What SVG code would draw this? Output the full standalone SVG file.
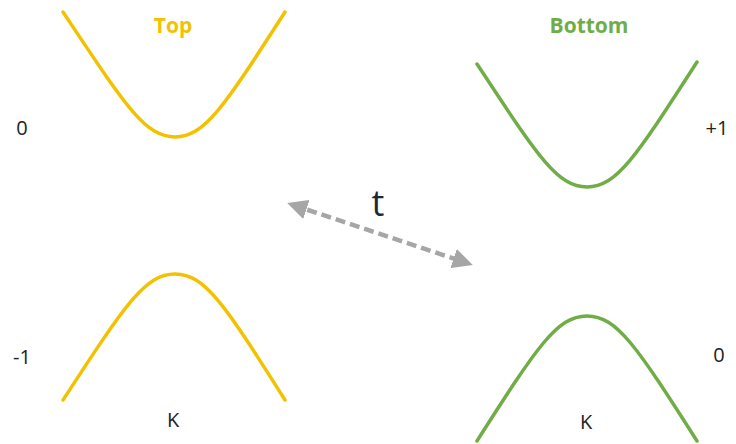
<svg xmlns="http://www.w3.org/2000/svg" width="736" height="444" viewBox="0 0 736 444">
<style>
.y{fill:none;stroke:#f2c200;stroke-width:3.5;stroke-linecap:round}
.g{fill:none;stroke:#70ad47;stroke-width:3.5;stroke-linecap:round}
.lbl{font-family:"Open Sans","Liberation Sans",sans-serif;font-size:20px;fill:#222;text-anchor:middle}
.ttl{font-family:"Open Sans","Liberation Sans",sans-serif;font-size:21px;font-weight:bold;text-anchor:middle}
</style>
<defs>
<marker id="ah" viewBox="0 0 10 10" refX="7" refY="5" markerWidth="4.5" markerHeight="4.5" orient="auto-start-reverse">
<path d="M0,0 L10,5 L0,10 Z" fill="#a6a6a6"/>
</marker>
</defs>
<rect width="736" height="444" fill="#fff"/>
<g id="top-upper"><path class="y" d="M63,12 C125,105 145,137 175,137 C205,137 225,105 285,12"/></g>
<g id="top-lower"><path class="y" d="M63,400 C125,305 145,274 175,274 C205,274 225,305 285,400"/></g>
<g id="bottom-upper"><path class="g" d="M477,64 C537,155 557,187 587,187 C617,187 637,155 697,62"/></g>
<g id="bottom-lower"><path class="g" d="M477,441 C537,347 557,316 587,316 C617,316 637,347 697,441"/></g>
<g id="connectors">
<line x1="293" y1="205" x2="467" y2="263" stroke="#a6a6a6" stroke-width="4.5" stroke-dasharray="10,5" marker-start="url(#ah)" marker-end="url(#ah)"/>
</g>
<g id="labels">
<text class="ttl" x="173" y="33" fill="#f2c200">Top</text>
<text class="ttl" x="589" y="33" fill="#70ad47">Bottom</text>
<text x="378" y="216" font-family="'Open Sans','Liberation Sans',sans-serif" font-size="36" fill="#1b2a3a" text-anchor="middle">t</text>
<text class="lbl" x="22" y="135">0</text>
<text class="lbl" x="717" y="135">+1</text>
<text class="lbl" x="22" y="364">-1</text>
<text class="lbl" x="719" y="362">0</text>
<text class="lbl" x="173" y="427">K</text>
<text class="lbl" x="586" y="429">K</text>
</g>
</svg>
